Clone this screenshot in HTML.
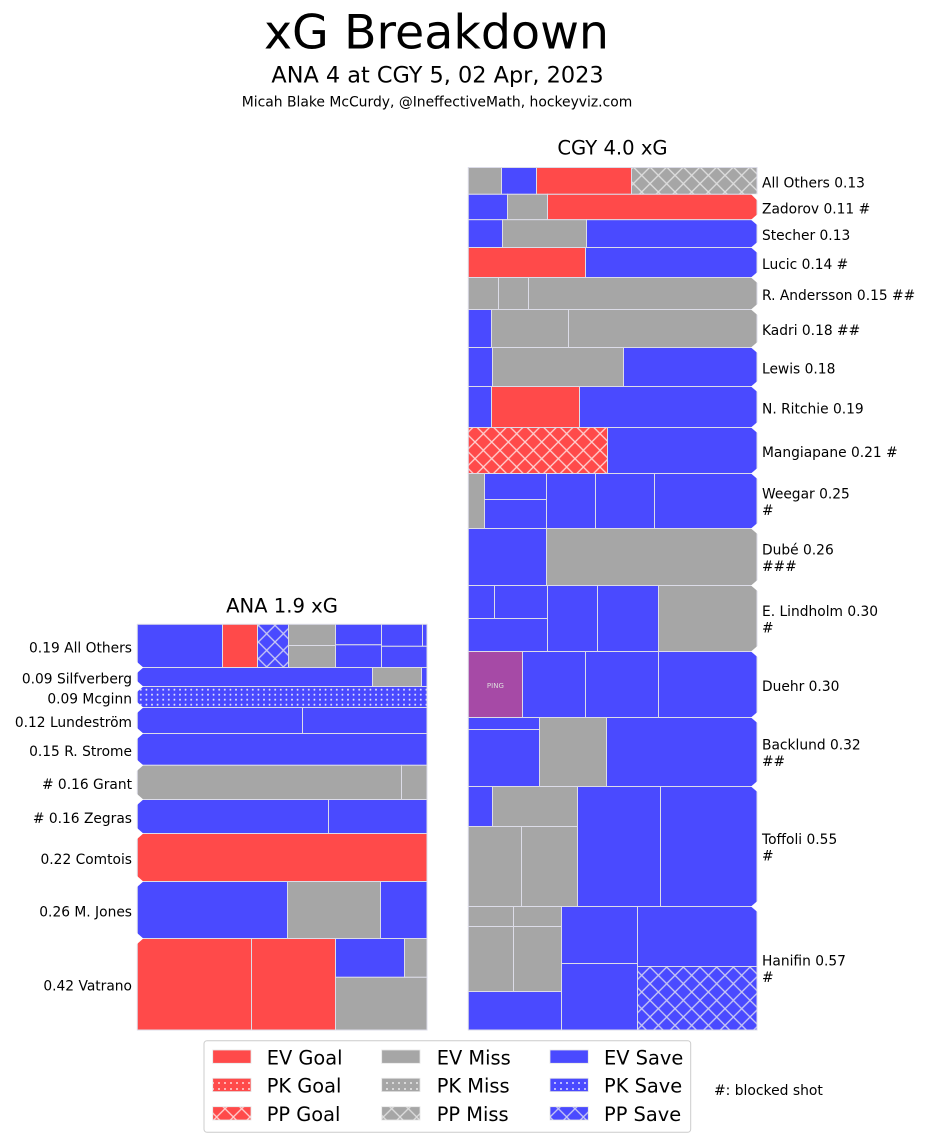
<!DOCTYPE html>
<html>
<head>
<meta charset="utf-8">
<style>
html,body{margin:0;padding:0;background:#fff;}
svg{display:block;}
text{font-family:"DejaVu Sans","Liberation Sans",sans-serif;fill:#000;}
</style>
</head>
<body>
<svg width="926" height="1142" viewBox="0 0 926 1142" xmlns="http://www.w3.org/2000/svg">
<defs>
  <pattern id="ppR" patternUnits="userSpaceOnUse" x="0" y="0.33" width="16.667" height="16.667">
    <rect width="16.667" height="16.667" fill="#ff4a4a"/>
    <path d="M0,0L16.667,16.667M16.667,0L0,16.667" stroke="#ffd0d0" stroke-width="1.3"/>
  </pattern>
  <pattern id="ppB" patternUnits="userSpaceOnUse" x="0" y="0.33" width="16.667" height="16.667">
    <rect width="16.667" height="16.667" fill="#4a4aff"/>
    <path d="M0,0L16.667,16.667M16.667,0L0,16.667" stroke="#c8c8f4" stroke-width="1.3"/>
  </pattern>
  <pattern id="ppG" patternUnits="userSpaceOnUse" x="0" y="0.33" width="16.667" height="16.667">
    <rect width="16.667" height="16.667" fill="#a6a6a6"/>
    <path d="M0,0L16.667,16.667M16.667,0L0,16.667" stroke="#dedede" stroke-width="1.3"/>
  </pattern>
  <pattern id="pkB" patternUnits="userSpaceOnUse" x="138" y="687.2" width="5.6" height="5">
    <rect width="5.6" height="5" fill="#4a4aff"/>
    <circle cx="2.8" cy="2.5" r="0.95" fill="#e8e8ff"/>
  </pattern>
  <pattern id="pkR" patternUnits="userSpaceOnUse" x="0" y="0" width="6" height="6">
    <rect width="6" height="6" fill="#ff4a4a"/>
    <circle cx="3" cy="3" r="0.95" fill="#ffe0e0"/>
  </pattern>
  <pattern id="pkG" patternUnits="userSpaceOnUse" x="0" y="0" width="6" height="6">
    <rect width="6" height="6" fill="#a6a6a6"/>
    <circle cx="3" cy="3" r="0.95" fill="#eeeeee"/>
  </pattern>
  <pattern id="pkBL" patternUnits="userSpaceOnUse" x="0" y="0" width="6" height="6">
    <rect width="6" height="6" fill="#4a4aff"/>
    <circle cx="3" cy="3" r="0.95" fill="#e8e8ff"/>
  </pattern>
</defs>

<!-- Titles -->
<text x="436.5" y="48.3" font-size="47.5" text-anchor="middle">xG Breakdown</text>
<text x="437.5" y="82.7" font-size="22.4" text-anchor="middle">ANA 4 at CGY 5, 02 Apr, 2023</text>
<text x="437" y="106.7" font-size="13.9" text-anchor="middle">Micah Blake McCurdy, @IneffectiveMath, hockeyviz.com</text>
<text x="612.5" y="154.3" font-size="19.6" text-anchor="middle">CGY 4.0 xG</text>
<text x="282" y="612.3" font-size="19.6" text-anchor="middle">ANA 1.9 xG</text>

<!-- CGY rects -->
<g stroke="#dcdce8" stroke-width="1">
  <rect x="468.3" y="167.5" width="33.2" height="26.8" fill="#a6a6a6"/>
  <rect x="501.5" y="167.5" width="35" height="26.8" fill="#4a4aff"/>
  <rect x="536.5" y="167.5" width="95" height="26.8" fill="#ff4a4a"/>
  <rect x="631.5" y="167.5" width="125.5" height="26.8" fill="url(#ppG)"/>
  <rect x="468.3" y="194.3" width="39.2" height="25.4" fill="#4a4aff"/>
  <rect x="507.5" y="194.3" width="40" height="25.4" fill="#a6a6a6"/>
  <rect x="547.5" y="194.3" width="209.5" height="25.4" fill="#ff4a4a"/>
  <rect x="468.3" y="219.7" width="34.2" height="27.8" fill="#4a4aff"/>
  <rect x="502.5" y="219.7" width="84" height="27.8" fill="#a6a6a6"/>
  <rect x="586.5" y="219.7" width="170.5" height="27.8" fill="#4a4aff"/>
  <rect x="468.3" y="247.5" width="117.2" height="30" fill="#ff4a4a"/>
  <rect x="585.5" y="247.5" width="171.5" height="30" fill="#4a4aff"/>
  <rect x="468.3" y="277.5" width="30.2" height="32" fill="#a6a6a6"/>
  <rect x="498.5" y="277.5" width="30" height="32" fill="#a6a6a6"/>
  <rect x="528.5" y="277.5" width="228.5" height="32" fill="#a6a6a6"/>
  <rect x="468.3" y="309.5" width="23.2" height="38" fill="#4a4aff"/>
  <rect x="491.5" y="309.5" width="77" height="38" fill="#a6a6a6"/>
  <rect x="568.5" y="309.5" width="188.5" height="38" fill="#a6a6a6"/>
  <rect x="468.3" y="347.5" width="24.2" height="39" fill="#4a4aff"/>
  <rect x="492.5" y="347.5" width="131" height="39" fill="#a6a6a6"/>
  <rect x="623.5" y="347.5" width="133.5" height="39" fill="#4a4aff"/>
  <rect x="468.3" y="386.5" width="23.2" height="41" fill="#4a4aff"/>
  <rect x="491.5" y="386.5" width="88" height="41" fill="#ff4a4a"/>
  <rect x="579.5" y="386.5" width="177.5" height="41" fill="#4a4aff"/>
  <rect x="468.3" y="427.5" width="139.2" height="46" fill="url(#ppR)"/>
  <rect x="607.5" y="427.5" width="149.5" height="46" fill="#4a4aff"/>
  <rect x="468.3" y="473.5" width="16.2" height="55" fill="#a6a6a6"/>
  <rect x="484.5" y="473.5" width="62" height="26" fill="#4a4aff"/>
  <rect x="484.5" y="499.5" width="62" height="29" fill="#4a4aff"/>
  <rect x="546.5" y="473.5" width="49" height="55" fill="#4a4aff"/>
  <rect x="595.5" y="473.5" width="59" height="55" fill="#4a4aff"/>
  <rect x="654.5" y="473.5" width="102.5" height="55" fill="#4a4aff"/>
  <rect x="468.3" y="528.5" width="78.2" height="57" fill="#4a4aff"/>
  <rect x="546.5" y="528.5" width="210.5" height="57" fill="#a6a6a6"/>
  <rect x="468.3" y="585.5" width="26.2" height="33" fill="#4a4aff"/>
  <rect x="494.5" y="585.5" width="53" height="33" fill="#4a4aff"/>
  <rect x="468.3" y="618.5" width="79.2" height="33" fill="#4a4aff"/>
  <rect x="547.5" y="585.5" width="50" height="66" fill="#4a4aff"/>
  <rect x="597.5" y="585.5" width="61" height="66" fill="#4a4aff"/>
  <rect x="658.5" y="585.5" width="98.5" height="66" fill="#a6a6a6"/>
  <rect x="468.3" y="651.5" width="54.2" height="66" fill="#a64aa6"/>
  <rect x="522.5" y="651.5" width="63" height="66" fill="#4a4aff"/>
  <rect x="585.5" y="651.5" width="73" height="66" fill="#4a4aff"/>
  <rect x="658.5" y="651.5" width="98.5" height="66" fill="#4a4aff"/>
  <rect x="468.3" y="717.5" width="71.2" height="12" fill="#4a4aff"/>
  <rect x="468.3" y="729.5" width="71.2" height="57" fill="#4a4aff"/>
  <rect x="539.5" y="717.5" width="67" height="69" fill="#a6a6a6"/>
  <rect x="606.5" y="717.5" width="150.5" height="69" fill="#4a4aff"/>
  <rect x="468.3" y="786.5" width="24.2" height="40" fill="#4a4aff"/>
  <rect x="492.5" y="786.5" width="85" height="40" fill="#a6a6a6"/>
  <rect x="468.3" y="826.5" width="53.2" height="80" fill="#a6a6a6"/>
  <rect x="521.5" y="826.5" width="56" height="80" fill="#a6a6a6"/>
  <rect x="577.5" y="786.5" width="83" height="120" fill="#4a4aff"/>
  <rect x="660.5" y="786.5" width="96.5" height="120" fill="#4a4aff"/>
  <rect x="468.3" y="906.5" width="45.2" height="20" fill="#a6a6a6"/>
  <rect x="513.5" y="906.5" width="48" height="20" fill="#a6a6a6"/>
  <rect x="468.3" y="926.5" width="45.2" height="65" fill="#a6a6a6"/>
  <rect x="513.5" y="926.5" width="48" height="65" fill="#a6a6a6"/>
  <rect x="468.3" y="991.5" width="93.2" height="38.5" fill="#4a4aff"/>
  <rect x="561.5" y="906.5" width="76" height="57" fill="#4a4aff"/>
  <rect x="561.5" y="963.5" width="76" height="66.5" fill="#4a4aff"/>
  <rect x="637.5" y="906.5" width="119.5" height="60" fill="#4a4aff"/>
  <rect x="637.5" y="966.5" width="119.5" height="63.5" fill="url(#ppB)"/>
</g>
<text x="495.4" y="688" font-size="7" text-anchor="middle" style="fill:#dddddd">PING</text>

<!-- CGY notches -->
<g fill="#fff">
  <polygon points="751,194.3 758,194.3 758,201.3"/>
  <polygon points="758,213.7 751,219.7 758,225.7"/>
  <polygon points="758,241.5 751,247.5 758,253.5"/>
  <polygon points="758,271.5 751,277.5 758,283.5"/>
  <polygon points="758,303.5 751,309.5 758,315.5"/>
  <polygon points="758,341.5 751,347.5 758,353.5"/>
  <polygon points="758,380.5 751,386.5 758,392.5"/>
  <polygon points="758,421.5 751,427.5 758,433.5"/>
  <polygon points="758,467.5 751,473.5 758,479.5"/>
  <polygon points="758,522.5 751,528.5 758,534.5"/>
  <polygon points="758,579.5 751,585.5 758,591.5"/>
  <polygon points="758,645.5 751,651.5 758,657.5"/>
  <polygon points="758,711.5 751,717.5 758,723.5"/>
  <polygon points="758,780.5 751,786.5 758,792.5"/>
  <polygon points="758,900.5 751,906.5 758,912.5"/>
</g>

<!-- ANA rects -->
<g stroke="#dcdce8" stroke-width="1">
  <rect x="137.3" y="624.3" width="85.2" height="43.2" fill="#4a4aff"/>
  <rect x="222.5" y="624.3" width="35" height="43.2" fill="#ff4a4a"/>
  <rect x="257.5" y="624.3" width="31" height="43.2" fill="url(#ppB)"/>
  <rect x="288.5" y="624.3" width="47" height="21.2" fill="#a6a6a6"/>
  <rect x="288.5" y="645.5" width="47" height="22" fill="#a6a6a6"/>
  <rect x="335.5" y="624.3" width="46" height="20.5" fill="#4a4aff"/>
  <rect x="335.5" y="644.8" width="46" height="22.7" fill="#4a4aff"/>
  <rect x="381.5" y="624.3" width="41" height="22" fill="#4a4aff"/>
  <rect x="422.5" y="624.3" width="4.5" height="22" fill="#4a4aff"/>
  <rect x="381.5" y="646.3" width="45.5" height="21.2" fill="#4a4aff"/>
  <rect x="137.3" y="667.5" width="235.2" height="19" fill="#4a4aff"/>
  <rect x="372.5" y="667.5" width="49" height="19" fill="#a6a6a6"/>
  <rect x="421.5" y="667.5" width="5.5" height="19" fill="#4a4aff"/>
  <rect x="137.3" y="686.5" width="289.7" height="21" fill="url(#pkB)"/>
  <rect x="137.3" y="707.5" width="165.2" height="26" fill="#4a4aff"/>
  <rect x="302.5" y="707.5" width="124.5" height="26" fill="#4a4aff"/>
  <rect x="137.3" y="733.5" width="289.7" height="31.8" fill="#4a4aff"/>
  <rect x="137.3" y="765.3" width="264.2" height="34.2" fill="#a6a6a6"/>
  <rect x="401.5" y="765.3" width="25.5" height="34.2" fill="#a6a6a6"/>
  <rect x="137.3" y="799.5" width="191.2" height="34" fill="#4a4aff"/>
  <rect x="328.5" y="799.5" width="98.5" height="34" fill="#4a4aff"/>
  <rect x="137.3" y="833.5" width="289.7" height="48" fill="#ff4a4a"/>
  <rect x="137.3" y="881.5" width="150.2" height="57" fill="#4a4aff"/>
  <rect x="287.5" y="881.5" width="93" height="57" fill="#a6a6a6"/>
  <rect x="380.5" y="881.5" width="46.5" height="57" fill="#4a4aff"/>
  <rect x="137.3" y="938.5" width="114.2" height="91.5" fill="#ff4a4a"/>
  <rect x="251.5" y="938.5" width="84" height="91.5" fill="#ff4a4a"/>
  <rect x="335.5" y="938.5" width="69" height="38.8" fill="#4a4aff"/>
  <rect x="404.5" y="938.5" width="22.5" height="38.8" fill="#a6a6a6"/>
  <rect x="335.5" y="977.3" width="91.5" height="52.7" fill="#a6a6a6"/>
</g>

<!-- ANA notches -->
<g fill="#fff">
  <polygon points="136.5,661.5 143.3,667.5 136.5,673.5"/>
  <polygon points="136.5,680.5 143.3,686.5 136.5,692.5"/>
  <polygon points="136.5,701.5 143.3,707.5 136.5,713.5"/>
  <polygon points="136.5,727.5 143.3,733.5 136.5,739.5"/>
  <polygon points="136.5,759.3 143.3,765.3 136.5,771.3"/>
  <polygon points="136.5,793.5 143.3,799.5 136.5,805.5"/>
  <polygon points="136.5,827.5 143.3,833.5 136.5,839.5"/>
  <polygon points="136.5,875.5 143.3,881.5 136.5,887.5"/>
  <polygon points="136.5,932.5 143.3,938.5 136.5,944.5"/>
</g>

<!-- CGY labels -->
<g font-size="13.8">
  <text x="762" y="187.3">All Others 0.13</text>
  <text x="762" y="213.4">Zadorov 0.11 #</text>
  <text x="762" y="240">Stecher 0.13</text>
  <text x="762" y="268.9">Lucic 0.14 #</text>
  <text x="762" y="299.9">R. Andersson 0.15 ##</text>
  <text x="762" y="334.9">Kadri 0.18 ##</text>
  <text x="762" y="373.4">Lewis 0.18</text>
  <text x="762" y="413.4">N. Ritchie 0.19</text>
  <text x="762" y="456.9">Mangiapane 0.21 #</text>
  <text x="762" y="498.5">Weegar 0.25</text>
  <text x="762" y="514.8">#</text>
  <text x="762" y="554.5">Dubé 0.26</text>
  <text x="762" y="570.8">###</text>
  <text x="762" y="616">E. Lindholm 0.30</text>
  <text x="762" y="632.3">#</text>
  <text x="762" y="690.9">Duehr 0.30</text>
  <text x="762" y="749.5">Backlund 0.32</text>
  <text x="762" y="765.8">##</text>
  <text x="762" y="844">Toffoli 0.55</text>
  <text x="762" y="860.3">#</text>
  <text x="762" y="965.7">Hanifin 0.57</text>
  <text x="762" y="982">#</text>
</g>

<!-- ANA labels -->
<g font-size="13.8" text-anchor="end">
  <text x="132" y="652.3">0.19 All Others</text>
  <text x="132" y="683.4">0.09 Silfverberg</text>
  <text x="132" y="703.4">0.09 Mcginn</text>
  <text x="132" y="726.9">0.12 Lundeström</text>
  <text x="132" y="755.8">0.15 R. Strome</text>
  <text x="132" y="788.8"># 0.16 Grant</text>
  <text x="132" y="822.9"># 0.16 Zegras</text>
  <text x="132" y="863.9">0.22 Comtois</text>
  <text x="132" y="916.4">0.26 M. Jones</text>
  <text x="132" y="990.7">0.42 Vatrano</text>
</g>

<!-- Legend -->
<rect x="204" y="1040.7" width="486.7" height="91.6" rx="3" ry="3" fill="#fff" stroke="#cccccc" stroke-width="1"/>
<g stroke="#e6e6e6" stroke-width="0.8">
  <rect x="212.7" y="1050" width="38.3" height="13.3" fill="#ff4a4a"/>
  <rect x="212.7" y="1078.3" width="38.3" height="13.3" fill="url(#pkR)"/>
  <rect x="212.7" y="1106.7" width="38.3" height="13.3" fill="url(#ppR)"/>
  <rect x="381.7" y="1050" width="38.3" height="13.3" fill="#a6a6a6"/>
  <rect x="381.7" y="1078.3" width="38.3" height="13.3" fill="url(#pkG)"/>
  <rect x="381.7" y="1106.7" width="38.3" height="13.3" fill="url(#ppG)"/>
  <rect x="550" y="1050" width="38.3" height="13.3" fill="#4a4aff"/>
  <rect x="550" y="1078.3" width="38.3" height="13.3" fill="url(#pkBL)"/>
  <rect x="550" y="1106.7" width="38.3" height="13.3" fill="url(#ppB)"/>
</g>
<g font-size="19.4">
  <text x="266.7" y="1064.3">EV Goal</text>
  <text x="266.7" y="1092.7">PK Goal</text>
  <text x="266.7" y="1121">PP Goal</text>
  <text x="436.7" y="1064.3">EV Miss</text>
  <text x="436.7" y="1092.7">PK Miss</text>
  <text x="436.7" y="1121">PP Miss</text>
  <text x="604" y="1064.3">EV Save</text>
  <text x="604" y="1092.7">PK Save</text>
  <text x="604" y="1121">PP Save</text>
</g>
<text x="714" y="1094.8" font-size="13.9">#: blocked shot</text>
</svg>
</body>
</html>
